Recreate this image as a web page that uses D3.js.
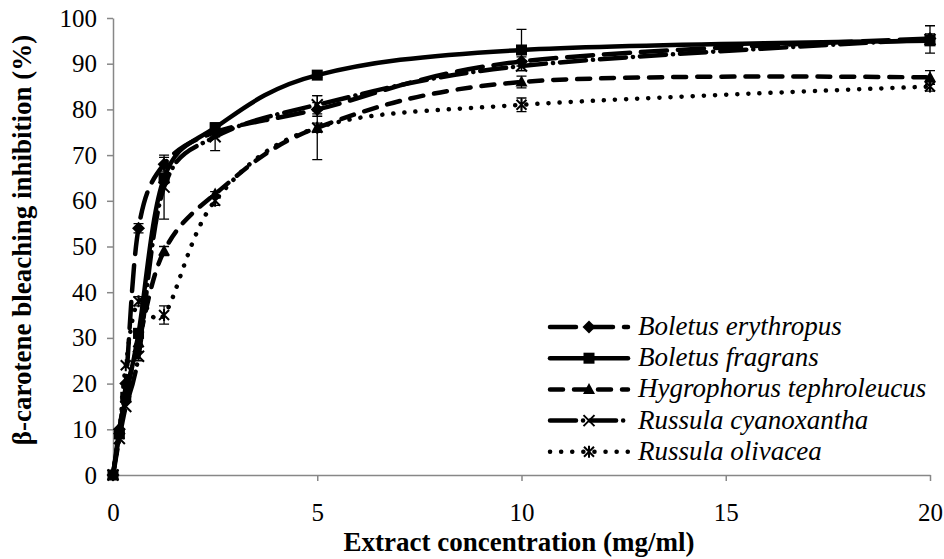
<!DOCTYPE html>
<html><head><meta charset="utf-8">
<script src="https://cdn.jsdelivr.net/npm/d3@7"></script>
<style>body{margin:0;background:#fff}svg{display:block}
text{font-family:"Liberation Serif","Times New Roman","DejaVu Serif",serif}</style>
</head><body>
<svg id="c" width="944" height="559"></svg>
<script>
const conc = [0, 0.156, 0.3125, 0.625, 1.25, 2.5, 5, 10, 20];
const erythropus    = [0, 10, 20, 54, 68, 75, 80, 90.5, 95.5];
const erythropusErr = [0, 0, 0, 1, 1.5, 1, 1.5, 1, 1];
const fragrans      = [0, 9, 17, 31, 65, 76, 87.5, 93, 95];
const fragransErr   = [0, 0, 0, 1, 1, 1, 0.5, 4.5, 1];
const tephroleucus    = [0, 10, 18, 29, 49, 61.5, 76, 86, 87];
const tephroleucusErr = [0, 0, 0, 1, 1, 0.5, 1, 1.3, 1.5];
const cyanoxantha    = [0, 8, 15, 26, 63, 74, 81, 89.5, 95.3];
const cyanoxanthaErr = [0, 0, 0, 1, 7, 3, 2, 1, 3];
const olivacea    = [0, 9, 24, 38, 35, 60, 76, 81, 85];
const olivaceaErr = [0, 0, 0, 1, 2, 1, 7, 1.5, 1];
const seriesNames = ["Boletus erythropus", "Boletus fragrans", "Hygrophorus tephroleucus", "Russula cyanoxantha", "Russula olivacea"];
const xTicks = [0, 5, 10, 15, 20];
const yTicks = [0, 10, 20, 30, 40, 50, 60, 70, 80, 90, 100];

const series = [
  {name: seriesNames[0], v: erythropus, e: erythropusErr, dash: "26 11", marker: "diamond"},
  {name: seriesNames[1], v: fragrans, e: fragransErr, dash: null, marker: "square"},
  {name: seriesNames[2], v: tephroleucus, e: tephroleucusErr, dash: "13 11", marker: "triangle"},
  {name: seriesNames[3], v: cyanoxantha, e: cyanoxanthaErr, dash: "26 7 0.1 7", marker: "x"},
  {name: seriesNames[4], v: olivacea, e: olivaceaErr, dash: "0.1 11", marker: "star"}
];

const FONT = "'Liberation Serif', 'Times New Roman', 'DejaVu Serif', serif";
const svg = d3.select("#c");
const x = d3.scaleLinear().domain([0, 20]).range([113, 930]);
const y = d3.scaleLinear().domain([0, 100]).range([475, 18]);
const axisColor = "#878787";

const gx = svg.append("g").attr("transform", "translate(0,475)")
  .call(d3.axisBottom(x).tickValues(xTicks).tickSize(6).tickPadding(22).tickSizeOuter(0));
const gy = svg.append("g").attr("transform", "translate(113,0)")
  .call(d3.axisLeft(y).tickValues(yTicks).tickSize(6).tickPadding(10).tickSizeOuter(0));
[gx, gy].forEach(g => {
  g.attr("font-family", FONT).attr("font-size", 25);
  g.select(".domain").attr("stroke", axisColor).attr("stroke-width", 1.5);
  g.selectAll(".tick line").attr("stroke", axisColor).attr("stroke-width", 1.5);
  g.selectAll(".tick text").attr("fill", "#000").style("font-family", FONT).style("font-size", "25px");
});

const line = d3.line().x((d, i) => x(conc[i])).y(d => y(d)).curve(d3.curveCardinal.tension(0));

function drawMarker(g, type, cx, cy) {
  if (type === "diamond") {
    g.append("path").attr("d", `M${cx},${cy-6.5}L${cx+6.5},${cy}L${cx},${cy+6.5}L${cx-6.5},${cy}Z`).attr("fill", "#000");
  } else if (type === "square") {
    g.append("rect").attr("x", cx-5.5).attr("y", cy-5.5).attr("width", 11).attr("height", 11).attr("fill", "#000");
  } else if (type === "triangle") {
    g.append("path").attr("d", `M${cx},${cy-6.5}L${cx+6},${cy+4.5}L${cx-6},${cy+4.5}Z`).attr("fill", "#000");
  } else if (type === "x") {
    g.append("path").attr("d", `M${cx-5.5},${cy-5.5}L${cx+5.5},${cy+5.5}M${cx-5.5},${cy+5.5}L${cx+5.5},${cy-5.5}`)
      .attr("stroke", "#000").attr("stroke-width", 2);
  } else if (type === "star") {
    g.append("path").attr("d", `M${cx-5},${cy-5}L${cx+5},${cy+5}M${cx-5},${cy+5}L${cx+5},${cy-5}M${cx},${cy-6}L${cx},${cy+6}`)
      .attr("stroke", "#000").attr("stroke-width", 2);
  }
}

series.forEach(s => {
  const g = svg.append("g");
  g.append("path").datum(s.v).attr("d", line).attr("fill", "none").attr("stroke", "#000")
    .attr("stroke-width", 4.5).attr("stroke-linecap", "round")
    .attr("stroke-dasharray", s.dash);
  s.v.forEach((v, i) => {
    const err = s.e[i];
    if (err > 0) {
      const cx = x(conc[i]);
      g.append("path").attr("d",
        `M${cx},${y(v+err)}L${cx},${y(v-err)}M${cx-5},${y(v+err)}L${cx+5},${y(v+err)}M${cx-5},${y(v-err)}L${cx+5},${y(v-err)}`)
        .attr("stroke", "#000").attr("stroke-width", 1.3).attr("fill", "none");
    }
    drawMarker(g, s.marker, x(conc[i]), y(v));
  });
});

const legY0 = 327, legDy = 31.2;
series.forEach((s, i) => {
  const ly = legY0 + i * legDy;
  const g = svg.append("g");
  g.append("line").attr("x1", 550).attr("x2", 628).attr("y1", ly).attr("y2", ly)
    .attr("stroke", "#000").attr("stroke-width", 4.5).attr("stroke-linecap", "round")
    .attr("stroke-dasharray", s.dash);
  drawMarker(g, s.marker, 589, ly);
  g.append("text").attr("x", 638).attr("y", ly + 8).text(s.name)
    .style("font-family", FONT).style("font-style", "italic").style("font-size", "27px");
});

svg.append("text").attr("x", 519).attr("y", 551).attr("text-anchor", "middle")
  .style("font-family", FONT).style("font-weight", "bold").style("font-size", "27px")
  .text("Extract concentration (mg/ml)");
svg.append("text").attr("transform", "translate(31,240) rotate(-90)").attr("text-anchor", "middle")
  .style("font-family", FONT).style("font-weight", "bold").style("font-size", "27px")
  .text("β-carotene bleaching inhibition (%)");
</script>
</body></html>
